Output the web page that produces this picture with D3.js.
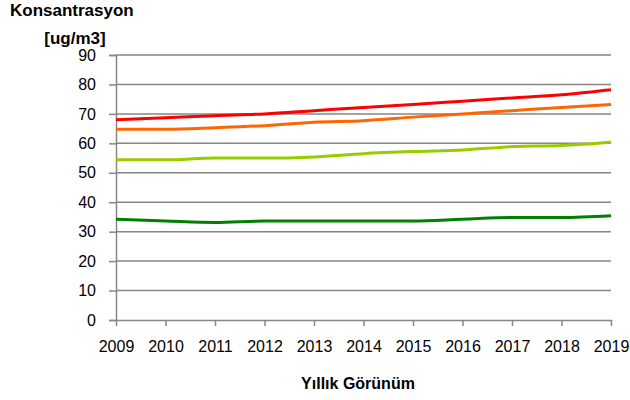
<!DOCTYPE html>
<html>
<head>
<meta charset="utf-8">
<script src="https://cdn.jsdelivr.net/npm/d3@7"></script>
<style>
  body { margin: 0; background: #fff; }
  text { font-family: "Liberation Sans", Arial, sans-serif; }
</style>
</head>
<body>
<div id="chart"></div>
<script>
var years = [2009, 2010, 2011, 2012, 2013, 2014, 2015, 2016, 2017, 2018, 2019];
var red = [68.0, 68.7, 69.4, 70.0, 71.1, 72.2, 73.2, 74.3, 75.4, 76.5, 78.2];
var orange = [64.8, 64.8, 65.3, 66.0, 67.2, 67.7, 68.9, 70.0, 71.1, 72.2, 73.2];
var lime = [54.4, 54.4, 55.0, 55.0, 55.4, 56.5, 57.2, 57.7, 58.9, 59.3, 60.4];
var green = [34.2, 33.6, 33.1, 33.6, 33.6, 33.6, 33.6, 34.2, 34.8, 34.8, 35.4];
var yTicks = [0, 10, 20, 30, 40, 50, 60, 70, 80, 90];

var series = [
  { values: green, color: "#008000" },
  { values: lime, color: "#99cc00" },
  { values: orange, color: "#ff6600" },
  { values: red, color: "#ff0000" }
];

var width = 630, height = 400;
var mLeft = 116, mRight = 611, mTop = 55, mBottom = 320;

var svg = d3.select("#chart").append("svg")
  .attr("width", width)
  .attr("height", height);

var x = d3.scaleLinear().domain([2009, 2019]).range([mLeft, mRight]);
var y = d3.scaleLinear().domain([0, 90]).range([mBottom, mTop]);

// grid
svg.append("g")
  .selectAll("line")
  .data(yTicks.slice(1))
  .enter().append("line")
  .attr("x1", mLeft).attr("x2", mRight)
  .attr("y1", function(d) { return y(d); })
  .attr("y2", function(d) { return y(d); })
  .attr("stroke", "#868686")
  .attr("stroke-width", 1.5);

// y axis
var yAxis = svg.append("g")
  .attr("transform", "translate(" + mLeft + ",0)")
  .call(d3.axisLeft(y).tickValues(yTicks).tickSize(7).tickPadding(13));
yAxis.select(".domain").attr("stroke", "#868686").attr("stroke-width", 1.5);
yAxis.selectAll(".tick line").attr("stroke", "#868686").attr("stroke-width", 1.5);
yAxis.selectAll(".tick text").attr("font-size", 16).attr("fill", "#000")
  .attr("font-family", "Liberation Sans, Arial, sans-serif");

// x axis
var xAxis = svg.append("g")
  .attr("transform", "translate(0," + mBottom + ")")
  .call(d3.axisBottom(x).tickValues(years).tickFormat(d3.format("d")).tickSizeInner(6).tickSizeOuter(0).tickPadding(15));
xAxis.select(".domain").attr("stroke", "#868686").attr("stroke-width", 1.5);
xAxis.selectAll(".tick line").attr("stroke", "#868686").attr("stroke-width", 1.5);
xAxis.selectAll(".tick text").attr("font-size", 16).attr("fill", "#000")
  .attr("font-family", "Liberation Sans, Arial, sans-serif");

// lines
var line = d3.line()
  .x(function(d, i) { return x(years[i]); })
  .y(function(d) { return y(d); })
  .curve(d3.curveMonotoneX);

svg.append("g")
  .selectAll("path")
  .data(series)
  .enter().append("path")
  .attr("d", function(d) { return line(d.values); })
  .attr("fill", "none")
  .attr("stroke", function(d) { return d.color; })
  .attr("stroke-width", 3)
  .attr("stroke-linecap", "butt");

// titles
svg.append("text")
  .attr("x", 10).attr("y", 16)
  .attr("font-size", 17).attr("font-weight", "bold")
  .text("Konsantrasyon");
svg.append("text")
  .attr("x", 75).attr("y", 44)
  .attr("text-anchor", "middle")
  .attr("font-size", 17).attr("font-weight", "bold")
  .text("[ug/m3]");
svg.append("text")
  .attr("x", 358).attr("y", 389)
  .attr("text-anchor", "middle")
  .attr("font-size", 16).attr("font-weight", "bold")
  .text("Yıllık Görünüm");
</script>
</body>
</html>
